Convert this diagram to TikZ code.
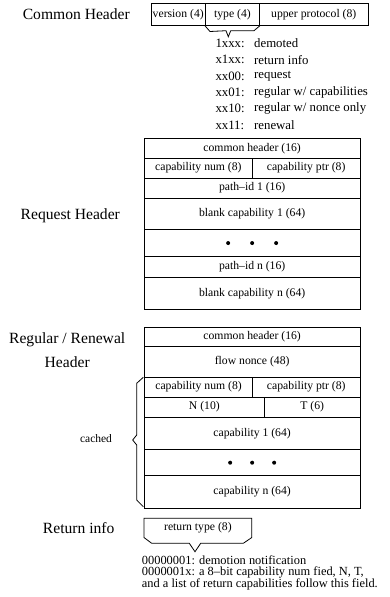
\documentclass[tikz,border=0pt]{standalone}
\usepackage{fontspec}
\setmainfont{Liberation Serif}
\begin{document}
\begin{tikzpicture}[x=1pt,y=-1pt,
  lw/.style={line width=0.8pt},
  field/.style={draw, lw, inner sep=0pt, anchor=north west, font=\fontsize{11.7}{13}\selectfont},
  biglabel/.style={inner sep=0pt, font=\fontsize{15.6}{23.4}\selectfont, align=center},
  listtext/.style={inner sep=0pt, anchor=west, font=\fontsize{12.8}{14}\selectfont},
  notetext/.style={inner sep=0pt, anchor=base west, font=\fontsize{12.4}{14}\selectfont},
  dotfill/.style={fill=black, draw=none}]
\useasboundingbox (0,0) rectangle (389,597);

% ---------- Common header ----------
\node[biglabel] (lch) at (76.3,14) {Common Header};
\node[field, minimum width=54.3pt, minimum height=21.7pt] (cv) at (150.7,3.3) {version (4)};
\node[field, minimum width=54pt, minimum height=21.7pt] (ct) at (205,3.3) {type (4)};
\node[field, minimum width=108.7pt, minimum height=21.7pt] (cu) at (259,3.3) {upper protocol (8)};
\coordinate (ttip) at (228.3,36.7);
\draw[lw] (ct.south west) -- ++(5,5.7) -- (226,30.7) -- (ttip) -- (230.7,30.7) -- (254,30.7) -- (ct.south east);

\node[listtext] (l1a) at (215.3,43.3) {1xxx:};  \node[listtext] (l1b) at (254,43.3) {demoted};
\node[listtext] (l2a) at (215.3,59.7) {x1xx:};  \node[listtext] (l2b) at (254,59.7) {return info};
\node[listtext] (l3a) at (215.3,76) {xx00:};    \node[listtext] (l3b) at (254,76) {request};
\node[listtext] (l4a) at (215.3,92.3) {xx01:};  \node[listtext] (l4b) at (254,92.3) {regular w/ capabilities};
\node[listtext] (l5a) at (215.3,108.7) {xx10:}; \node[listtext] (l5b) at (254,108.7) {regular w/ nonce only};
\node[listtext] (l6a) at (215.3,125) {xx11:};   \node[listtext] (l6b) at (254,125) {renewal};

% ---------- Request header ----------
\node[biglabel] (lrq) at (70.3,216) {Request Header};
\node[field, minimum width=215.5pt, minimum height=19.4pt] (r1) at (144,138.3) {common header (16)};
\node[field, minimum width=108pt, minimum height=20pt] (r2a) at (144,157.7) {capability num (8)};
\node[field, minimum width=107.5pt, minimum height=20pt] (r2b) at (252,157.7) {capability ptr (8)};
\node[field, minimum width=215.5pt, minimum height=20pt] (r3) at (144,177.7) {path\textendash id 1 (16)};
\node[field, minimum width=215.5pt, minimum height=31.6pt] (r4) at (144,197.7) {blank capability 1 (64)};
\node[field, minimum width=215.5pt, minimum height=26.7pt] (r5) at (144,229.3) {};
\node[field, minimum width=215.5pt, minimum height=20.7pt] (r6) at (144,256) {path\textendash id n (16)};
\node[field, minimum width=215.5pt, minimum height=32.3pt] (r7) at (144,276.7) {blank capability n (64)};
\fill[dotfill] ([xshift=-24pt]r5.center) circle (2pt) (r5.center) circle (2pt) ([xshift=24pt]r5.center) circle (2pt);

% ---------- Regular / Renewal header ----------
\node[biglabel] (lrg) at (67.2,350) {Regular / Renewal\\Header};
\node[field, minimum width=215.5pt, minimum height=19.3pt] (g1) at (144,326.7) {common header (16)};
\node[field, minimum width=215.5pt, minimum height=30.7pt] (g2) at (144,346) {flow nonce (48)};
\node[field, minimum width=108.3pt, minimum height=20pt] (g3a) at (144,376.7) {capability num (8)};
\node[field, minimum width=107.2pt, minimum height=20pt] (g3b) at (252.3,376.7) {capability ptr (8)};
\node[field, minimum width=120pt, minimum height=20pt] (g4a) at (144,396.7) {N (10)};
\node[field, minimum width=95.5pt, minimum height=20pt] (g4b) at (264,396.7) {T (6)};
\node[field, minimum width=215.5pt, minimum height=32.6pt] (g5) at (144,416.7) {capability 1 (64)};
\node[field, minimum width=215.5pt, minimum height=26pt] (g6) at (144,449.3) {};
\node[field, minimum width=215.5pt, minimum height=32.7pt] (g7) at (144,475.3) {capability n (64)};
\fill[dotfill] ([xshift=-22pt]g6.center) circle (2pt) (g6.center) circle (2pt) ([xshift=22pt]g6.center) circle (2pt);
\coordinate (btop) at (143.3,377.3);
\coordinate (btip) at (132.7,440);
\coordinate (bbot) at (143.3,506.7);
\draw[lw] (btop) -- (136.7,383.3) -- (136.7,435) -- (btip) -- (136.7,445) -- (136.7,500) -- (bbot);
\node[inner sep=0pt, font=\fontsize{11.5}{13}\selectfont] (cached) at (96,438.3) {cached};

% ---------- Return info ----------
\node[biglabel] (lri) at (78.7,527.7) {Return info};
\node[field, draw=none, minimum width=107pt, minimum height=18.4pt] (rt) at (144,518.3) {return type (8)};
\coordinate (rtip) at (195,551.7);
\draw[lw] (rt.south west) -- (rt.north west) -- (rt.north east) -- (rt.south east)
  -- (243.3,543.3) -- (200.7,543.3) -- (rtip) -- (189.3,543.3) -- (151.7,543.3) -- cycle;
\node[notetext] (t1) at (141.7,564) {00000001: demotion notification};
\node[notetext] (t2) at (141.7,575.5) {0000001x: a 8\textendash bit capability num fied, N, T,};
\node[notetext] (t3) at (141.7,587) {and a list of return capabilities follow this field.};
\end{tikzpicture}
\end{document}
